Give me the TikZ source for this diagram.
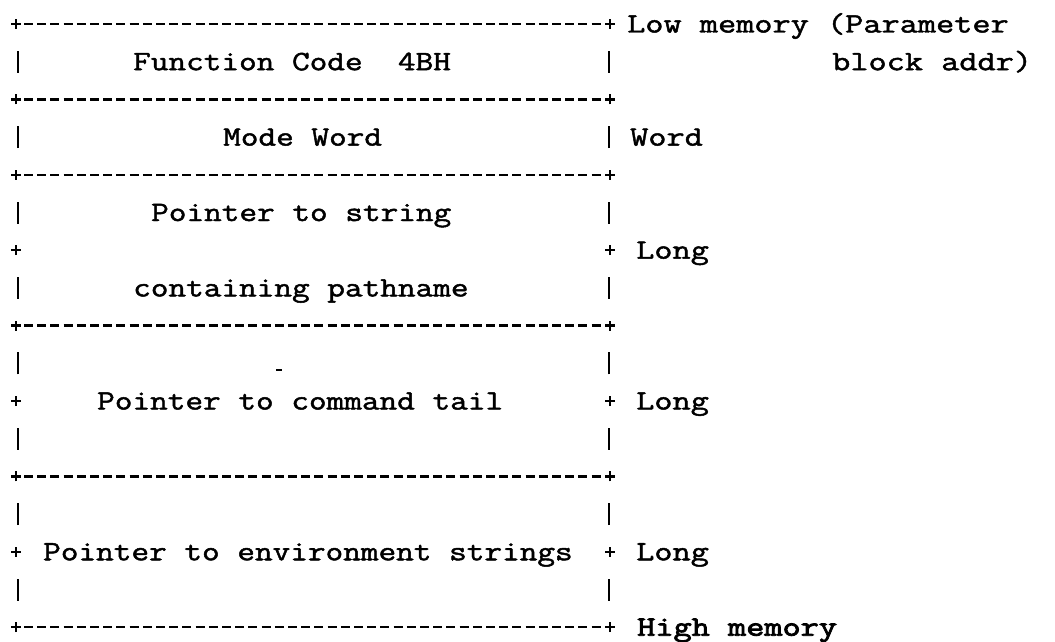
\documentclass[tikz,border=0pt]{standalone}
\usepackage{fontspec}
\newfontfamily\tw{Latin Modern Mono}[FakeStretch=1.224,FakeBold=1.7]
\newfontfamily\twr{Latin Modern Mono}[FakeStretch=1.26,FakeBold=1.7]
\newfontfamily\twb{Latin Modern Mono}[FakeStretch=1.26,FakeBold=3]
\begin{document}
\begin{tikzpicture}[x=1pt,y=-1pt,
  txt/.style={anchor=base west,inner sep=0pt,font=\tw\fontsize{28}{28}\selectfont},
  txtr/.style={anchor=base west,inner sep=0pt,font=\twr\fontsize{28}{28}\selectfont},
  txtb/.style={anchor=base west,inner sep=0pt,font=\twb\fontsize{28}{28}\selectfont},
  border/.style={line width=2.4pt,dash pattern=on 9pt off 4.2pt},
  vbar/.style={line width=2.8pt},
  plusline/.style={line width=2.4pt}]
\useasboundingbox (0,0) rectangle (1055,642);
% horizontal borders with corner plus marks
\foreach \r in {1,3,5,9,13,17}{
  \coordinate (bl\r) at (16,{24+(\r-1)*37.7});
  \coordinate (br\r) at (610,{24+(\r-1)*37.7});
  \draw[border] ([xshift=8pt]bl\r) -- ([xshift=-7pt]br\r);
  \draw[plusline] ([xshift=-5pt]bl\r) -- ([xshift=5pt]bl\r) ([yshift=-5pt]bl\r) -- ([yshift=5pt]bl\r);
  \draw[plusline] ([xshift=-5pt]br\r) -- ([xshift=5pt]br\r) ([yshift=-5pt]br\r) -- ([yshift=5pt]br\r);
}
% side plus marks
\foreach \r in {7,11,15}{
  \coordinate (pl\r) at (16,{24+(\r-1)*37.7});
  \coordinate (pr\r) at (610,{24+(\r-1)*37.7});
  \draw[plusline] ([xshift=-5pt]pl\r) -- ([xshift=5pt]pl\r) ([yshift=-5pt]pl\r) -- ([yshift=5pt]pl\r);
  \draw[plusline] ([xshift=-5pt]pr\r) -- ([xshift=5pt]pr\r) ([yshift=-5pt]pr\r) -- ([yshift=5pt]pr\r);
}
% vertical bars
\foreach \r in {2,4,6,8,10,12,14,16}{
  \coordinate (vl\r) at (18,{24+(\r-1)*37.7});
  \coordinate (vr\r) at (609,{24+(\r-1)*37.7});
  \draw[vbar] ([yshift=-11pt]vl\r) -- ([yshift=11pt]vl\r);
  \draw[vbar] ([yshift=-11pt]vr\r) -- ([yshift=11pt]vr\r);
}
% stray mark
\coordinate (m1) at (276,370);
\coordinate (m2) at (282,370);
\draw[line width=2pt] (m1) -- (m2);
% texts
\node[txtr] (lowmem) at (627,{24+8.5}) {Low memory (Parameter};
\node[txt] (fc) at ({7+18*7},{24+1*37.7+8.5}) {Function Code\ \ 4BH};
\node[txtr] (baddr) at (832,{24+1*37.7+8.5}) {block addr)};
\node[txt] (mw) at ({7+18*12},{24+3*37.7+8.5}) {Mode Word};
\node[txtr] (wd) at (630,{24+3*37.7+8.5}) {Word};
\node[txt] (ps) at ({7+18*8},{24+5*37.7+8.5}) {Pointer to string};
\node[txtr] (l1) at (636,{24+6*37.7+8.5}) {Long};
\node[txt] (cp) at ({7+18*7},{24+7*37.7+8.5}) {containing pathname};
\node[txt] (pc) at ({7+18*5},{24+10*37.7+8.5}) {Pointer to command tail};
\node[txtr] (l2) at (636,{24+10*37.7+8.5}) {Long};
\node[txt] (pe) at ({7+18*2},{24+14*37.7+8.5}) {Pointer to environment strings};
\node[txtr] (l3) at (636,{24+14*37.7+8.5}) {Long};
\node[txtb] (hm) at (637,{24+16*37.7+8.5}) {High memory};
\end{tikzpicture}
\end{document}
